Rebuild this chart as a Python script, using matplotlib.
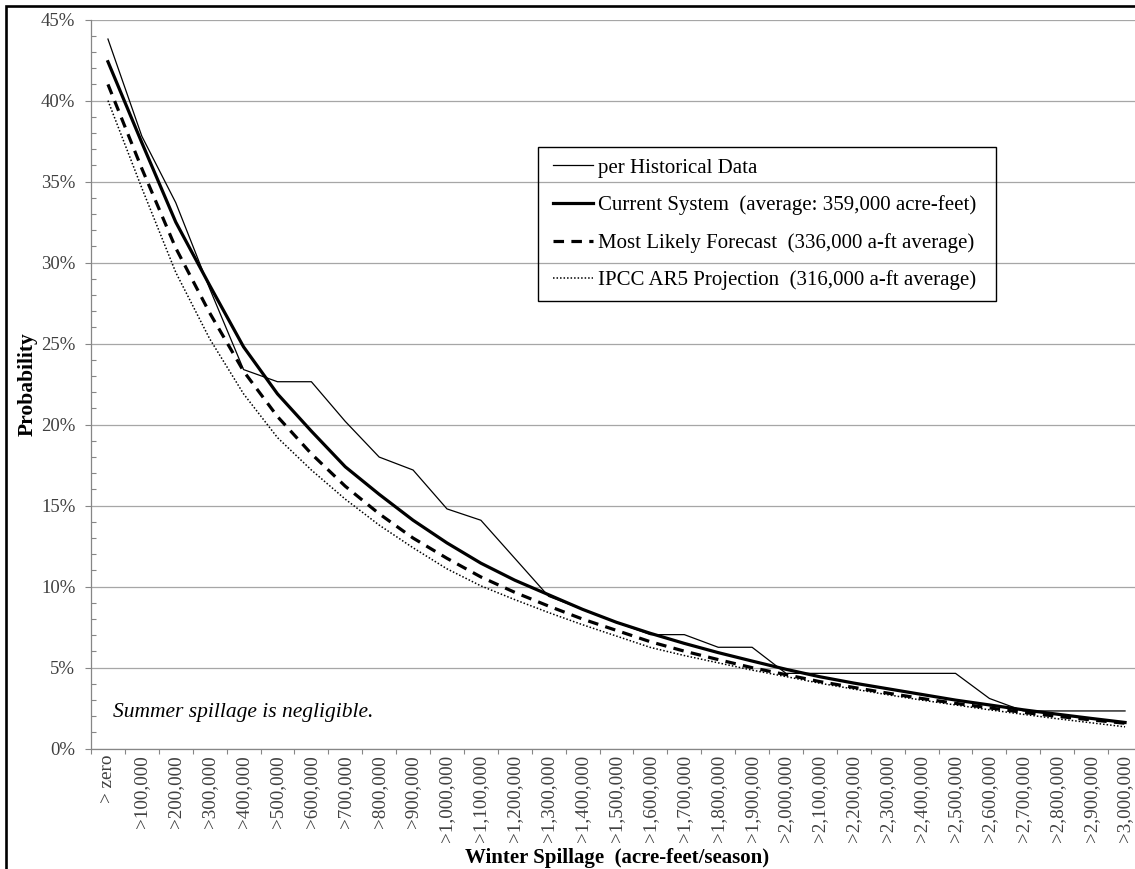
import matplotlib
matplotlib.use("Agg")
import matplotlib.pyplot as plt
from matplotlib.patches import Rectangle
from matplotlib.ticker import FixedLocator, MultipleLocator, FuncFormatter

plt.rcParams['font.family'] = ['Liberation Serif', 'DejaVu Serif']

# Exceedance thresholds for winter spillage (acre-feet/season)
categories = ['> zero', '>100,000', '>200,000', '>300,000', '>400,000', '>500,000',
              '>600,000', '>700,000', '>800,000', '>900,000', '>1,000,000',
              '>1,100,000', '>1,200,000', '>1,300,000', '>1,400,000', '>1,500,000',
              '>1,600,000', '>1,700,000', '>1,800,000', '>1,900,000', '>2,000,000',
              '>2,100,000', '>2,200,000', '>2,300,000', '>2,400,000', '>2,500,000',
              '>2,600,000', '>2,700,000', '>2,800,000', '>2,900,000', '>3,000,000']

# Probability of exceedance (%)
historical = [43.8, 37.8, 33.7, 28.4, 23.4, 22.65, 22.65, 20.2, 18.0, 17.2, 14.8,
              14.1, 11.75, 9.4, 8.6, 7.8, 7.04, 7.04, 6.26, 6.26, 4.65,
              4.65, 4.65, 4.65, 4.65, 4.65, 3.1, 2.33, 2.33, 2.33, 2.33]
current_system = [42.4, 37.4, 32.5, 28.6, 24.8, 21.9, 19.6, 17.4, 15.7, 14.1, 12.7,
                  11.45, 10.4, 9.5, 8.6, 7.8, 7.12, 6.5, 5.93, 5.41, 4.9,
                  4.44, 4.05, 3.7, 3.35, 3.0, 2.7, 2.4, 2.13, 1.87, 1.62]
most_likely = [41.0, 35.8, 30.9, 26.9, 23.3, 20.5, 18.2, 16.2, 14.5, 13.0, 11.75,
               10.6, 9.65, 8.8, 8.0, 7.3, 6.6, 6.02, 5.5, 5.0, 4.57,
               4.14, 3.78, 3.43, 3.1, 2.8, 2.52, 2.24, 2.0, 1.78, 1.57]
ipcc_ar5 = [40.0, 34.6, 29.4, 25.3, 21.9, 19.2, 17.2, 15.4, 13.8, 12.4, 11.1,
            10.05, 9.2, 8.4, 7.65, 6.95, 6.25, 5.75, 5.3, 4.85, 4.45,
            4.04, 3.68, 3.33, 3.0, 2.7, 2.4, 2.12, 1.85, 1.6, 1.35]

series_labels = ['per Historical Data',
                 'Current System  (average: 359,000 acre-feet)',
                 'Most Likely Forecast  (336,000 a-ft average)',
                 'IPCC AR5 Projection  (316,000 a-ft average)']

W, H = 1135, 869
fig = plt.figure(figsize=(W / 100, H / 100), dpi=100)
fig.patch.set_facecolor('white')


def fx(px):
    return px / W


def fy(py):
    return 1 - py / H


# plot area in pixel coordinates
left_px, right_px, top_px, bottom_px = 91, 1142, 19.6, 748.7
ax = fig.add_axes([fx(left_px), fy(bottom_px),
                   (right_px - left_px) / W, (bottom_px - top_px) / H])

x = list(range(len(categories)))
grey = '#868686'
text_grey = '#404040'

ax.plot(x, historical, color='black', lw=0.9, label=series_labels[0], zorder=5)
ax.plot(x, current_system, color='black', lw=2.3, label=series_labels[1], zorder=4)
ax.plot(x, most_likely, color='black', lw=2.3, dashes=(3.3, 2.3),
        label=series_labels[2], zorder=3)
ax.plot(x, ipcc_ar5, color='black', lw=1.1, dashes=(1.0, 1.3),
        label=series_labels[3], zorder=3)

ax.set_xlim(-0.5, len(categories) - 0.5)
ax.set_ylim(0, 45)

# y axis: major 5 %, minor 1 %
ax.yaxis.set_major_locator(MultipleLocator(5))
ax.yaxis.set_minor_locator(MultipleLocator(1))
ax.yaxis.set_major_formatter(FuncFormatter(lambda v, p: f'{v:.0f}%'))
ax.tick_params(axis='y', which='major', direction='out', length=4.3, width=0.8,
               color=grey, labelsize=13.5, labelcolor=text_grey, pad=7)
ax.tick_params(axis='y', which='minor', direction='in', length=3.6, width=0.8,
               color=grey)
ax.grid(axis='y', which='major', color='#a6a6a6', lw=0.9)
ax.set_axisbelow(True)

# x axis: labels at category centres, tick marks between categories
ax.xaxis.set_major_locator(FixedLocator(x))
ax.set_xticklabels(categories, rotation=90, ha='center', va='top')
ax.xaxis.set_minor_locator(FixedLocator([i - 0.5 for i in range(len(categories) + 1)]))
ax.tick_params(axis='x', which='major', length=0, labelsize=13.8,
               labelcolor=text_grey, pad=4.5)
ax.tick_params(axis='x', which='minor', direction='out', length=3.6, width=0.8,
               color=grey)

for side in ('top', 'right'):
    ax.spines[side].set_visible(False)
for side in ('left', 'bottom'):
    ax.spines[side].set_color(grey)
    ax.spines[side].set_linewidth(0.9)

fig.text(fx(27.5), fy(384), 'Probability', rotation=90, ha='center',
         va='center', fontsize=15.5, fontweight='bold')
fig.text(fx(617), fy(858), 'Winter Spillage  (acre-feet/season)', ha='center',
         va='center', fontsize=15, fontweight='bold')

fig.text(fx(113), fy(712), 'Summer spillage is negligible.',
         ha='left', va='center', fontsize=15.5, fontstyle='italic')

# legend entries placed without their own frame; the box is drawn separately
leg = ax.legend(loc='upper left', bbox_to_anchor=(fx(553), fy(158)),
                bbox_transform=fig.transFigure, frameon=False,
                fontsize=15, handlelength=1.9, handletextpad=0.25,
                labelspacing=0.85, borderpad=0, borderaxespad=0)
fig.patches.append(Rectangle((fx(538), fy(301)), (996 - 538) / W, (301 - 147) / H,
                             transform=fig.transFigure, fill=False,
                             edgecolor='black', lw=1.0, zorder=10))

# outer chart border
fig.patches.append(Rectangle((fx(6), -0.2), 2.0, 1.2 - 6 / H, transform=fig.transFigure,
                             fill=False, edgecolor='black', lw=1.9, clip_on=False))

fig.savefig('out.png', dpi=100)
